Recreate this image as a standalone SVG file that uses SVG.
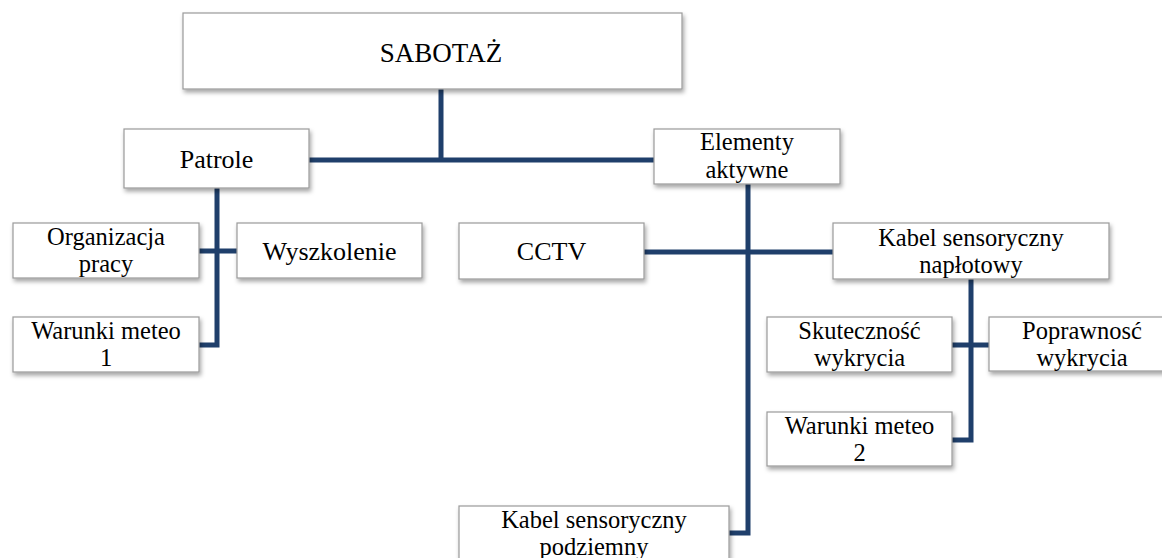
<svg xmlns="http://www.w3.org/2000/svg" width="1162" height="558" viewBox="0 0 1162 558">
<defs>
<filter id="sh" x="-10%" y="-20%" width="120%" height="150%">
<feDropShadow dx="1.5" dy="3" stdDeviation="2" flood-color="#000" flood-opacity="0.35"/>
</filter>
<style>
.box{fill:#fff;stroke:#9a9a9a;stroke-width:1.2;filter:url(#sh)}
.t{font-family:"Liberation Serif","Times New Roman",serif;font-size:26px;fill:#000;text-anchor:middle}
.t2{font-family:"Liberation Serif","Times New Roman",serif;font-size:24.5px;fill:#000;text-anchor:middle}
.c{fill:none;stroke:#1F3F6B;stroke-width:5;stroke-linejoin:miter;stroke-linecap:butt}
</style>
</defs>
<rect width="1162" height="558" fill="#fff"/>
<g id="connectors">
<path class="c" d="M441,89 V160 M309,160 H654"/>
<path class="c" d="M217,188 V345 H199 M199,251 H237"/>
<path class="c" d="M748,184 V533 H729 M644,252 H833"/>
<path class="c" d="M971,279 V440 H952 M952,345 H989"/>
</g>
<g id="sabotaz"><rect class="box" x="183" y="13" width="499" height="76"/><text class="t" x="441" y="62" style="font-size:27px">SABOTAŻ</text></g>
<g id="patrole"><rect class="box" x="124" y="129" width="185" height="59"/><text class="t" x="216.5" y="168">Patrole</text></g>
<g id="elementy"><rect class="box" x="654" y="129" width="186" height="55"/><text class="t2" x="747" y="150">Elementy</text><text class="t2" x="747" y="177.5">aktywne</text></g>
<g id="organizacja"><rect class="box" x="13" y="223" width="186" height="55"/><text class="t2" x="106" y="244.5">Organizacja</text><text class="t2" x="106" y="272">pracy</text></g>
<g id="wyszkolenie"><rect class="box" x="237" y="223" width="185" height="55"/><text class="t" x="329.5" y="260">Wyszkolenie</text></g>
<g id="meteo1"><rect class="box" x="13" y="317" width="186" height="55"/><text class="t2" x="106" y="338.5">Warunki meteo</text><text class="t2" x="106" y="366">1</text></g>
<g id="cctv"><rect class="box" x="459" y="223" width="185" height="56"/><text class="t" x="551.5" y="260">CCTV</text></g>
<g id="naplotowy"><rect class="box" x="833" y="223" width="276" height="56"/><text class="t2" x="971" y="245.5">Kabel sensoryczny</text><text class="t2" x="971" y="273">napłotowy</text></g>
<g id="skutecznosc"><rect class="box" x="767" y="317" width="185" height="55"/><text class="t2" x="859.5" y="338.5">Skuteczność</text><text class="t2" x="859.5" y="366">wykrycia</text></g>
<g id="poprawnosc"><rect class="box" x="989" y="317" width="185" height="54"/><text class="t2" x="1082" y="338.5">Poprawnosć</text><text class="t2" x="1082" y="366">wykrycia</text></g>
<g id="meteo2"><rect class="box" x="767" y="412" width="185" height="54"/><text class="t2" x="859.5" y="433.5">Warunki meteo</text><text class="t2" x="859.5" y="461">2</text></g>
<g id="podziemny"><rect class="box" x="459" y="506" width="270" height="56"/><text class="t2" x="594" y="527.5">Kabel sensoryczny</text><text class="t2" x="594" y="555">podziemny</text></g>
</svg>
